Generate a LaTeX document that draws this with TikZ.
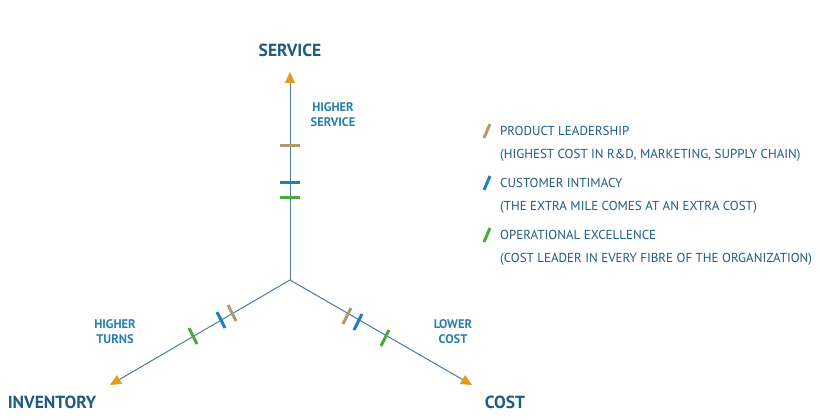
\documentclass[tikz,border=0pt]{standalone}
\usepackage{fontspec}
\setmainfont{PT Sans}
\usetikzlibrary{calc,arrows.meta}
\definecolor{axisc}{HTML}{4A7C9C}
\definecolor{arrc}{HTML}{E59A1C}
\definecolor{titc}{HTML}{1F5C80}
\definecolor{labc}{HTML}{2A80AA}
\definecolor{tanc}{HTML}{B09A70}
\definecolor{bluec}{HTML}{1E80C0}
\definecolor{greenc}{HTML}{4AAA3C}
\tikzset{
  axisline/.style={draw=axisc,line width=1pt,-{Triangle[length=11pt,width=10pt,fill=arrc,color=arrc]}},
  title/.style={text=titc,font=\bfseries\fontsize{17.5}{18}\selectfont},
  lab/.style={text=labc,font=\bfseries\fontsize{12.5}{15}\selectfont,align=center},
  leg/.style={text=titc,font=\fontsize{13}{14}\selectfont,anchor=west,inner sep=0pt},
  tick/.style={line width=3pt},
}
\begin{document}
\begin{tikzpicture}[x=1pt,y=-1pt]
\useasboundingbox[fill=white] (0,0) rectangle (820,420);
\coordinate (o) at (290,280);
\coordinate (s) at (290,72);
\coordinate (i) at (110,385);
\coordinate (c) at (472,385);
\draw[axisline] (o) -- (s);
\draw[axisline] (o) -- (i);
\draw[axisline] (o) -- (c);
\node[title] (ts) at (290,50) {SERVICE};
\node[title] (ti) at (52,402) {INVENTORY};
\node[title] (tc) at (505,402) {COST};
\node[lab] (ls) at (333,115) {HIGHER\\SERVICE};
\node[lab] (li) at (115,332) {HIGHER\\TURNS};
\node[lab] (lc) at (453,332) {LOWER\\COST};
% service ticks
\draw[tick,tanc] (280,145) -- (300,145);
\draw[tick,bluec] (280,182) -- (300,182);
\draw[tick,greenc] (280,197) -- (300,197);
% inventory ticks
\draw[tick,tanc] (228,305) -- (236,321);
\draw[tick,bluec] (217,312) -- (225,328);
\draw[tick,greenc] (189,328) -- (197,344);
% cost ticks
\draw[tick,tanc] (351,308) -- (343,324);
\draw[tick,bluec] (362,314) -- (354,330);
\draw[tick,greenc] (389,330) -- (381,346);
% legend
\draw[tick,tanc] (484,138) -- (490,124);
\draw[tick,bluec] (484,190) -- (490,176);
\draw[tick,greenc] (484,242) -- (490,228);
\node[leg] (l1) at (500,131) {PRODUCT LEADERSHIP};
\node[leg] (l2) at (500,155) {(HIGHEST COST IN R\&D, MARKETING, SUPPLY CHAIN)};
\node[leg] (l3) at (500,183) {CUSTOMER INTIMACY};
\node[leg] (l4) at (500,207) {(THE EXTRA MILE COMES AT AN EXTRA COST)};
\node[leg] (l5) at (500,235) {OPERATIONAL EXCELLENCE};
\node[leg] (l6) at (500,259) {(COST LEADER IN EVERY FIBRE OF THE ORGANIZATION)};
\end{tikzpicture}
\end{document}
